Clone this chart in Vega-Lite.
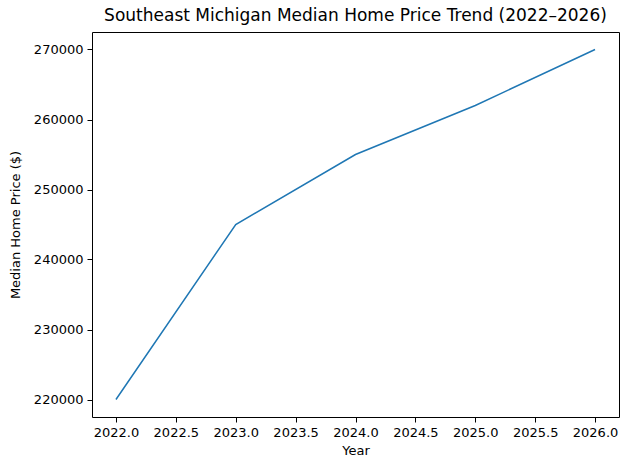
{
  "$schema": "https://vega.github.io/schema/vega-lite/v6.json",
  "autosize": "none",
  "width": 527,
  "height": 385,
  "padding": {"left": 92, "top": 32, "right": 9, "bottom": 53},
  "background": "white",
  "config": {
    "font": "DejaVu Sans",
    "view": {"stroke": "black", "strokeWidth": 1},
    "axis": {"grid": false, "domain": false, "tickColor": "black", "tickSize": 5, "labelColor": "black", "titleColor": "black", "labelFontSize": 13, "titleFontSize": 13, "titleFontWeight": "normal", "labelPadding": 4, "tickWidth": 1}
  },
  "title": {"text": "Southeast Michigan Median Home Price Trend (2022–2026)", "fontSize": 17, "fontWeight": "normal", "color": "black", "offset": 7, "anchor": "middle"},
  "data": {"values": [
    {"year": 2022, "price": 220000},
    {"year": 2023, "price": 245000},
    {"year": 2024, "price": 255000},
    {"year": 2025, "price": 262000},
    {"year": 2026, "price": 270000}
  ]},
  "mark": {"type": "line", "color": "#1f77b4", "strokeWidth": 1.5},
  "encoding": {
    "x": {"field": "year", "type": "quantitative", "title": "Year",
      "scale": {"domain": [2021.8, 2026.2], "nice": false, "zero": false},
      "axis": {"values": [2022, 2022.5, 2023, 2023.5, 2024, 2024.5, 2025, 2025.5, 2026], "format": ".1f", "titlePadding": 5, "labelFlush": false, "labelOverlap": false}},
    "y": {"field": "price", "type": "quantitative", "title": "Median Home Price ($)",
      "scale": {"domain": [217500, 272500], "nice": false, "zero": false},
      "axis": {"values": [220000, 230000, 240000, 250000, 260000, 270000], "format": "d", "titlePadding": 11, "labelFlush": false, "labelOverlap": false}}
  }
}
